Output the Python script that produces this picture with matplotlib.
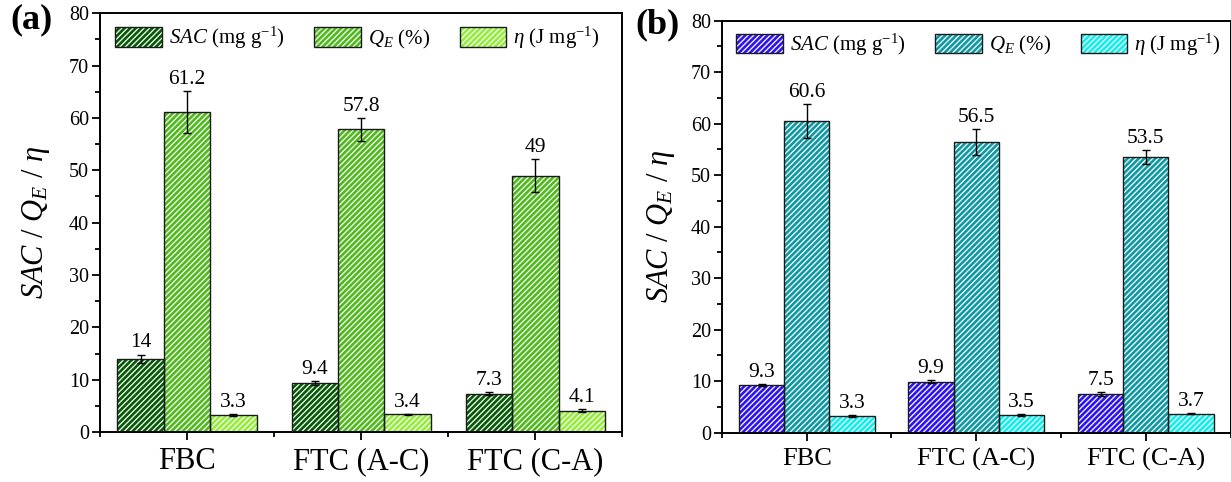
import matplotlib
matplotlib.use("Agg")
import matplotlib.pyplot as plt
from matplotlib.patches import Patch
from matplotlib.legend_handler import HandlerTuple
from matplotlib.ticker import MultipleLocator, FixedLocator
import numpy as np

plt.rcParams['font.family'] = ['Liberation Serif', 'DejaVu Serif']
plt.rcParams['mathtext.fontset'] = 'custom'
plt.rcParams['mathtext.rm'] = 'Liberation Serif'
plt.rcParams['mathtext.it'] = 'Liberation Serif:italic'
plt.rcParams['mathtext.bf'] = 'Liberation Serif:bold'
plt.rcParams['hatch.linewidth'] = 0.9

# ---------------- data ----------------
categories = ["FBC", "FTC (A-C)", "FTC (C-A)"]
series_labels = ["$SAC$ (mg g$^{\\mathrm{-1}}$)", "$Q_E$ (%)", "$\\eta$ (J mg$^{\\mathrm{-1}}$)"]

a_sac = [14, 9.4, 7.3]
a_sac_err = [0.8, 0.35, 0.3]
a_qe = [61.2, 57.8, 49]
a_qe_err = [4.0, 2.2, 3.2]
a_eta = [3.3, 3.4, 4.1]
a_eta_err = [0.2, 0.1, 0.3]

b_sac = [9.3, 9.9, 7.5]
b_sac_err = [0.2, 0.3, 0.4]
b_qe = [60.6, 56.5, 53.5]
b_qe_err = [3.3, 2.5, 1.4]
b_eta = [3.3, 3.5, 3.7]
b_eta_err = [0.2, 0.2, 0.1]

a_colors = ["#055a05", "#4fba1c", "#92ee38"]
b_colors = ["#2e14f0", "#0e99a3", "#0cf0f0"]

yticks = [0, 10, 20, 30, 40, 50, 60, 70, 80]

fig = plt.figure(figsize=(12.31, 4.82), dpi=100)
ax_a = fig.add_axes([0.0812, 0.1037, 0.4244, 0.8687])
ax_b = fig.add_axes([0.5865, 0.1023, 0.4131, 0.8548])

HATCH = "//////"
EDGE = "#1a1a1a"


def draw_panel(ax, vals, errs, colors, cat_size, leg_anchor):
    n = len(categories)
    x = np.arange(1, n + 1)
    w = 0.8 / 3
    handles = []
    for k, (v, e, c) in enumerate(zip(vals, errs, colors)):
        xs = x + (k - 1) * w
        ax.bar(xs, v, w, color=c, edgecolor="white", hatch=HATCH, linewidth=0, zorder=2)
        ax.bar(xs, v, w, fill=False, edgecolor=EDGE, linewidth=1.0, zorder=3)
        ax.errorbar(xs, v, yerr=e, fmt="none", ecolor="black", elinewidth=1.0,
                    capsize=3, capthick=1.0, zorder=4)
        for xi, vi, ei in zip(xs, v, e):
            ax.annotate(f"{vi:g}", (xi, vi + ei), xytext=(0, 1.5),
                        textcoords="offset points", ha="center", va="bottom",
                        fontsize=15.5)
        h1 = Patch(facecolor=c, edgecolor="white", hatch=HATCH, linewidth=0)
        h2 = Patch(fill=False, edgecolor=EDGE, linewidth=1.0)
        handles.append((h1, h2))
    ax.set_xlim(0.5, n + 0.5)
    ax.set_ylim(0, 80)
    ax.yaxis.set_major_locator(FixedLocator(yticks))
    ax.yaxis.set_minor_locator(MultipleLocator(5))
    ax.xaxis.set_major_locator(FixedLocator(list(x)))
    ax.xaxis.set_minor_locator(FixedLocator(list(np.arange(0.5, n + 1, 1.0))))
    ax.set_xticklabels(categories, fontsize=cat_size)
    ax.tick_params(axis="y", which="major", direction="out", length=6, width=1.3,
                   labelsize=14.5, pad=2)
    ax.tick_params(axis="y", which="minor", direction="out", length=3.5, width=1.3)
    ax.tick_params(axis="x", which="major", direction="out", length=6, width=1.3, pad=5)
    ax.tick_params(axis="x", which="minor", direction="out", length=3.5, width=1.3)
    for s in ax.spines.values():
        s.set_linewidth(1.4)
    ax.set_ylabel("$SAC$ / $Q_E$ / $\\eta$", fontsize=22)
    ax.legend(handles, series_labels, handler_map={tuple: HandlerTuple(ndivide=1)},
              loc="upper left", bbox_to_anchor=leg_anchor, ncol=3, frameon=False,
              fontsize=15, borderpad=0, borderaxespad=0, handlelength=2.25,
              handleheight=1.05, handletextpad=0.33, columnspacing=1.42)


draw_panel(ax_a, [a_sac, a_qe, a_eta], [a_sac_err, a_qe_err, a_eta_err], a_colors,
           22, (0.0287, 0.972))
draw_panel(ax_b, [b_sac, b_qe, b_eta], [b_sac_err, b_qe_err, b_eta_err], b_colors,
           19, (0.0275, 0.974))
ax_a.yaxis.set_label_coords(-0.092, 0.5)
ax_b.yaxis.set_label_coords(-0.088, 0.5)

fig.text(0.0085, 0.958, "(a)", fontsize=26, fontweight="bold", ha="left", va="center")
fig.text(0.516, 0.948, "(b)", fontsize=26, fontweight="bold", ha="left", va="center")

fig.savefig("out.png", dpi=100)
